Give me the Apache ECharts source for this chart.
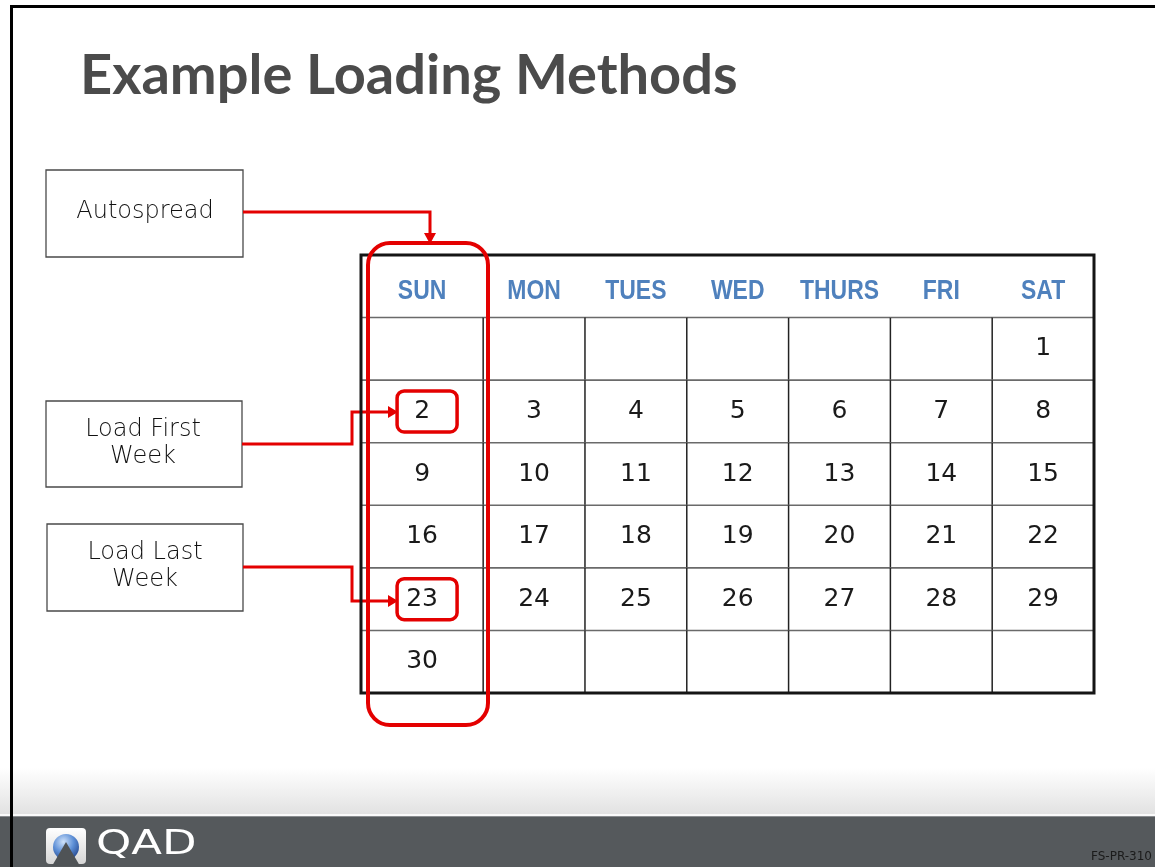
<!DOCTYPE html>
<html>
<head>
<meta charset="utf-8">
<script src="https://cdn.jsdelivr.net/npm/echarts@6/dist/echarts.min.js"></script>
<style>html,body{margin:0;padding:0;background:#fff;}#c{width:1155px;height:867px;}</style>
</head>
<body>
<div id="c"></div>
<script>
// ---- data ----
const days = ['SUN', 'MON', 'TUES', 'WED', 'THURS', 'FRI', 'SAT'];
const week1 = ['', '', '', '', '', '', '1'];
const week2 = ['2', '3', '4', '5', '6', '7', '8'];
const week3 = ['9', '10', '11', '12', '13', '14', '15'];
const week4 = ['16', '17', '18', '19', '20', '21', '22'];
const week5 = ['23', '24', '25', '26', '27', '28', '29'];
const week6 = ['30', '', '', '', '', '', ''];
const weeks = [week1, week2, week3, week4, week5, week6];
const highlightDates = ['2', '23'];
const titleText = 'Example Loading Methods';
const footerCode = 'FS-PR-310';

// ---- layout (not data) ----
const colWeights = [1.2, 1, 1, 1, 1, 1, 1];
const edges = [0];
colWeights.forEach(w => edges.push(edges[edges.length - 1] + w));
const RED = '#e40000';

const headerData = days.map((d, c) => [c, 0]);
const cellData = [];
const cellLabels = [];
weeks.forEach((wk, r) => wk.forEach((v, c) => { cellData.push([c, r + 1]); cellLabels.push(v); }));

function cellRect(api, c, r) {
  const p0 = api.coord([edges[c], r]);
  const p1 = api.coord([edges[c + 1], r + 1]);
  return { x: p0[0], y: p0[1], w: p1[0] - p0[0], h: p1[1] - p0[1] };
}

const chart = echarts.init(document.getElementById('c'), null, { renderer: 'canvas' });

const leftBox = (x, y, w, h) => ({
  type: 'rect', shape: { x: x, y: y, width: w, height: h },
  style: { fill: '#fff', stroke: '#4a4a4a', lineWidth: 1.3 }, z: 10
});
const boxText = (x, y, t) => ({
  type: 'text', z: 11,
  style: { x: x, y: y, text: t, font: '200 24px "DejaVu Sans"', fill: '#111',
           align: 'center', verticalAlign: 'middle', textAlign: 'center', textVerticalAlign: 'middle' }
});
const arrowLine = pts => ({ type: 'polyline', z: 20, shape: { points: pts },
  style: { stroke: RED, lineWidth: 3, fill: null } });
const arrowHead = pts => ({ type: 'polygon', z: 20, shape: { points: pts }, style: { fill: RED } });

const option = {
  animation: false,
  backgroundColor: '#fff',
  grid: { left: 361, top: 255, width: 733, height: 438, show: true, backgroundColor: '#fff', borderWidth: 0 },
  xAxis: { type: 'value', min: 0, max: edges[edges.length - 1], show: false },
  yAxis: { type: 'value', min: 0, max: 7, inverse: true, show: false },
  series: [
    {
      type: 'custom', name: 'header', data: headerData, z: 5,
      renderItem: function (params, api) {
        const c = api.value(0), r = api.value(1);
        const b = cellRect(api, c, r);
        return {
          type: 'text', x: b.x + b.w / 2, y: b.y + b.h / 2 + 5, scaleX: 0.82,
          style: { x: 0, y: 0, text: days[c],
                   font: 'bold 28px "Liberation Sans", sans-serif',
                   fill: '#4f81bd', align: 'center', verticalAlign: 'middle',
                   textAlign: 'center', textVerticalAlign: 'middle' }
        };
      }
    },
    {
      type: 'custom', name: 'cells', data: cellData, z: 4,
      renderItem: function (params, api) {
        const c = api.value(0), r = api.value(1);
        const b = cellRect(api, c, r);
        const label = cellLabels[params.dataIndex];
        const children = [
          { type: 'line', shape: { x1: b.x, y1: b.y, x2: b.x + b.w, y2: b.y },
            style: { stroke: '#6a6a6a', lineWidth: 1.6 } }
        ];
        if (c > 0) {
          children.push({ type: 'line', shape: { x1: b.x, y1: b.y, x2: b.x, y2: b.y + b.h },
            style: { stroke: '#222', lineWidth: 1.5 } });
        }
        children.push({
          type: 'text',
          style: { x: b.x + b.w / 2, y: b.y + b.h / 2, text: label,
                   font: '25px "DejaVu Sans"', fill: '#1a1a1a', align: 'center', verticalAlign: 'middle',
                   textAlign: 'center', textVerticalAlign: 'middle' }
        });
        if (highlightDates.indexOf(label) >= 0) {
          const cx = b.x + b.w / 2 + 5, cy = b.y + b.h / 2;
          children.push({ type: 'rect', shape: { x: cx - 30, y: cy - 20.5, width: 60, height: 41, r: 7 },
            style: { fill: null, stroke: RED, lineWidth: 3.5 } });
        }
        return { type: 'group', children: children };
      }
    }
  ],
  graphic: [
    // slide frame
    { type: 'rect', shape: { x: 10, y: 5, width: 1145, height: 3 }, style: { fill: '#000' }, z: 50 },
    { type: 'rect', shape: { x: 10, y: 5, width: 3, height: 862 }, style: { fill: '#000' }, z: 50 },
    // footer
    { type: 'rect', shape: { x: 0, y: 768, width: 1155, height: 46 }, z: 1,
      style: { fill: new echarts.graphic.LinearGradient(0, 0, 0, 1, [
        { offset: 0, color: '#ffffff' }, { offset: 1, color: '#e2e2e2' }]) } },
    { type: 'rect', shape: { x: 0, y: 814, width: 1155, height: 2 }, style: { fill: '#fafafa' }, z: 2 },
    { type: 'rect', shape: { x: 0, y: 816, width: 1155, height: 51 }, style: { fill: '#55595c' }, z: 2 },
    { type: 'rect', shape: { x: 0, y: 816, width: 1155, height: 1 }, style: { fill: '#8a8d90' }, z: 3 },
    // QAD logo
    { type: 'rect', shape: { x: 46, y: 828, width: 40, height: 36, r: 4 }, z: 4,
      style: { fill: new echarts.graphic.LinearGradient(0, 0, 0, 1, [
        { offset: 0, color: '#ffffff' }, { offset: 1, color: '#d6d6d6' }]) } },
    { type: 'circle', shape: { cx: 66, cy: 847, r: 13 }, z: 5,
      style: { fill: new echarts.graphic.RadialGradient(0.4, 0.3, 0.8, [
        { offset: 0, color: '#cfe2fa' }, { offset: 0.5, color: '#5d8fd6' }, { offset: 1, color: '#1e3f86' }]) } },
    { type: 'polygon', shape: { points: [[52, 866], [66, 842], [80, 866]] }, z: 6,
      style: { fill: '#4f5356' } },
    { type: 'text', z: 6, x: 96, y: 845, scaleX: 1.32,
      style: { x: 0, y: 0, text: 'QAD', font: '34px "DejaVu Sans"', fill: '#ffffff',
               align: 'left', verticalAlign: 'middle', textAlign: 'left', textVerticalAlign: 'middle' } },
    { type: 'text', z: 6,
      style: { x: 1152, y: 857, text: footerCode, font: '12px "DejaVu Sans"', fill: '#1b1b1b',
               align: 'right', verticalAlign: 'middle', textAlign: 'right', textVerticalAlign: 'middle' } },
    // title
    { type: 'text', z: 10,
      style: { x: 80, y: 76, text: titleText, font: 'bold 56px Lato', fill: '#4b4b4b',
               align: 'left', verticalAlign: 'middle', textAlign: 'left', textVerticalAlign: 'middle' } },
    // left annotation boxes
    leftBox(46, 170, 197, 87),
    boxText(145, 212, 'Autospread'),
    leftBox(46, 401, 196, 86),
    boxText(143, 430, 'Load First'),
    boxText(143, 457, 'Week'),
    leftBox(47, 524, 196, 87),
    boxText(145, 553, 'Load Last'),
    boxText(145, 580, 'Week'),
    // calendar outer border
    { type: 'rect', shape: { x: 361, y: 255, width: 733, height: 438 }, z: 30,
      style: { fill: null, stroke: '#151515', lineWidth: 3 } },
    // SUN column highlight
    { type: 'rect', shape: { x: 368, y: 243, width: 120, height: 482, r: 22 }, z: 31,
      style: { fill: null, stroke: RED, lineWidth: 4 } },
    // arrows
    arrowLine([[243, 212], [430, 212], [430, 234]]),
    arrowHead([[424, 233], [436, 233], [430, 244]]),
    arrowLine([[242, 444], [352, 444], [352, 412], [389, 412]]),
    arrowHead([[388, 406], [388, 418], [398, 412]]),
    arrowLine([[243, 567], [352, 567], [352, 601], [389, 601]]),
    arrowHead([[388, 595], [388, 607], [398, 601]])
  ]
};
chart.setOption(option);
</script>
</body>
</html>
